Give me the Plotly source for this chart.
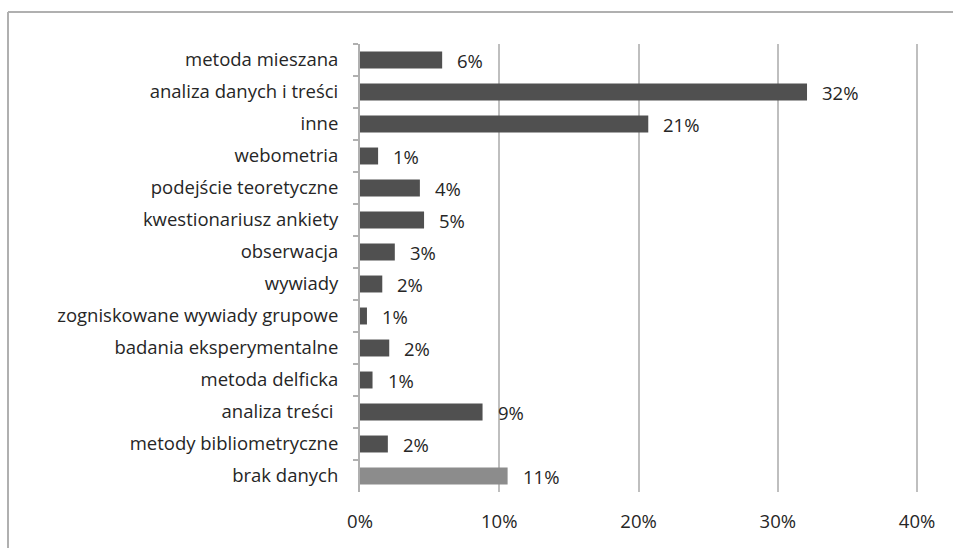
import plotly.graph_objects as go

categories = [
    "metoda mieszana", "analiza danych i treści", "inne", "webometria",
    "podejście teoretyczne", "kwestionariusz ankiety", "obserwacja", "wywiady",
    "zogniskowane wywiady grupowe", "badania eksperymentalne", "metoda delficka",
    "analiza treści ", "metody bibliometryczne", "brak danych",
]
values = [5.9, 32.1, 20.7, 1.3, 4.3, 4.6, 2.5, 1.6, 0.5, 2.1, 0.9, 8.8, 2.0, 10.6]
value_labels = ["6%", "32%", "21%", "1%", "4%", "5%", "3%", "2%", "1%", "2%", "1%", "9%", "2%", "11%"]
x_tickvals = [0, 10, 20, 30, 40]
x_ticktext = ["0%", "10%", "20%", "30%", "40%"]

colors = ["#505050"] * (len(categories) - 1) + ["#8c8c8c"]
FONT = "Open Sans"
FS = 18.5

fig = go.Figure(go.Bar(
    y=categories, x=values, orientation="h",
    marker=dict(color=colors, line=dict(width=0)),
    hoverinfo="skip",
))

for c, v, t in zip(categories, values, value_labels):
    fig.add_annotation(x=v, y=c, text=t, showarrow=False, xanchor="left",
                       xshift=13, font=dict(family=FONT, size=FS, color="#262626"))

L, R, T, B = 360, 29, 44, 56
fig.update_layout(
    width=953, height=548,
    margin=dict(l=L, r=R, t=T, b=B),
    paper_bgcolor="white", plot_bgcolor="white",
    bargap=0.47, showlegend=False,
    font=dict(family=FONT, size=FS, color="#262626"),
    xaxis=dict(range=[0, 40.5], tickvals=x_tickvals, ticktext=x_ticktext,
               showgrid=True, gridcolor="#bfbfbf", gridwidth=2,
               zeroline=False, showline=False, ticks="",
               ticklabelstandoff=16, fixedrange=True),
    yaxis=dict(autorange="reversed", type="category", showgrid=False,
               showline=True, linecolor="#b0b0b0", linewidth=2,
               ticks="outside", tickson="boundaries", ticklen=5,
               tickcolor="#b0b0b0", tickwidth=2, ticklabelstandoff=16,
               fixedrange=True),
)

# outer frame (top and left edges visible)
pw = 953 - L - R
ph = 548 - T - B
fy = (548 - B - 12) / ph
fx = (8 - L) / pw
fig.add_shape(type="line", xref="paper", yref="paper",
              x0=fx, x1=1.2, y0=fy, y1=fy, line=dict(color="#b0b0b0", width=2))
fig.add_shape(type="line", xref="paper", yref="paper",
              x0=fx, x1=fx, y0=fy, y1=-0.2, line=dict(color="#b0b0b0", width=2))

fig.write_html("out.html", config={"displayModeBar": False},
               post_script="document.body.style.margin='0';document.body.style.overflow='hidden';")
